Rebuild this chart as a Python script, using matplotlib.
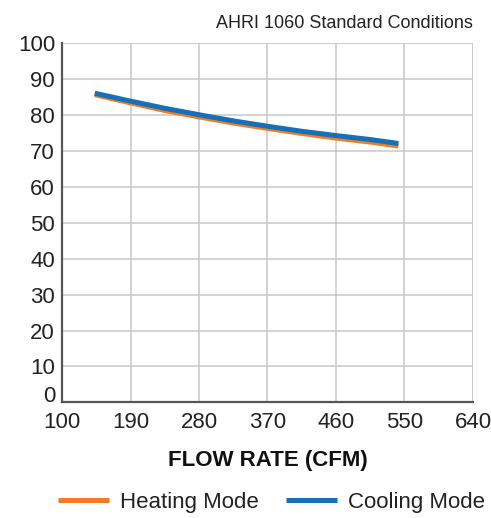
import matplotlib
matplotlib.use("Agg")
import matplotlib.pyplot as plt

plt.rcParams['font.family'] = ['Liberation Sans', 'DejaVu Sans']

# data
flow = [143, 190, 235, 280, 325, 370, 415, 460, 505, 542]
cooling = [86.1, 83.9, 81.9, 80.1, 78.4, 76.9, 75.5, 74.3, 73.2, 72.1]
heating = [85.7, 83.4, 81.3, 79.5, 77.8, 76.3, 74.9, 73.6, 72.5, 71.4]
xticks = [100, 190, 280, 370, 460, 550, 640]
yticks = list(range(0, 101, 10))

fig = plt.figure(figsize=(4.91, 5.18), dpi=100)
ax = fig.add_axes([0.1263, 0.2233, 0.837, 0.6931])

ax.plot(flow, heating, color='#F47B20', lw=3.6, solid_capstyle='butt', label='Heating Mode')
ax.plot(flow, cooling, color='#1370B9', lw=3.6, solid_capstyle='butt', label='Cooling Mode')

ax.set_xlim(100, 640)
ax.set_ylim(0, 100)
ax.set_xticks(xticks)
ax.set_yticks(yticks)
ax.grid(True, color='#c8c8c8', lw=1.1)
ax.set_axisbelow(True)
for s in ['top', 'right']:
    ax.spines[s].set_visible(False)
for s in ['left', 'bottom']:
    ax.spines[s].set_color('#555555')
    ax.spines[s].set_linewidth(1.6)
ax.tick_params(length=0, labelsize=16, colors='#222222')
ax.tick_params(axis='x', pad=7)
ax.tick_params(axis='y', pad=5)
# sit the y "0" label on the axis so it clears the x "100"
ax.get_yticklabels()[0].set_va('baseline')
# top/right edge lines of the grid
ax.axhline(100, color='#c8c8c8', lw=1.1, zorder=0)
ax.axvline(640, color='#c8c8c8', lw=1.1, zorder=0)

ax.set_xlabel('FLOW RATE (CFM)', fontsize=16, fontweight='bold', labelpad=12, color='#111111')
fig.text(0.9633, 0.945, 'AHRI 1060 Standard Conditions', ha='right', va='baseline',
         fontsize=13, color='#222222')

fig.legend(loc='center', bbox_to_anchor=(0.553, 0.03), ncol=2, frameon=False,
           fontsize=16, handlelength=2.3, handletextpad=0.5, columnspacing=1.2,
           labelcolor='#222222')

fig.savefig('out.png', dpi=100)
